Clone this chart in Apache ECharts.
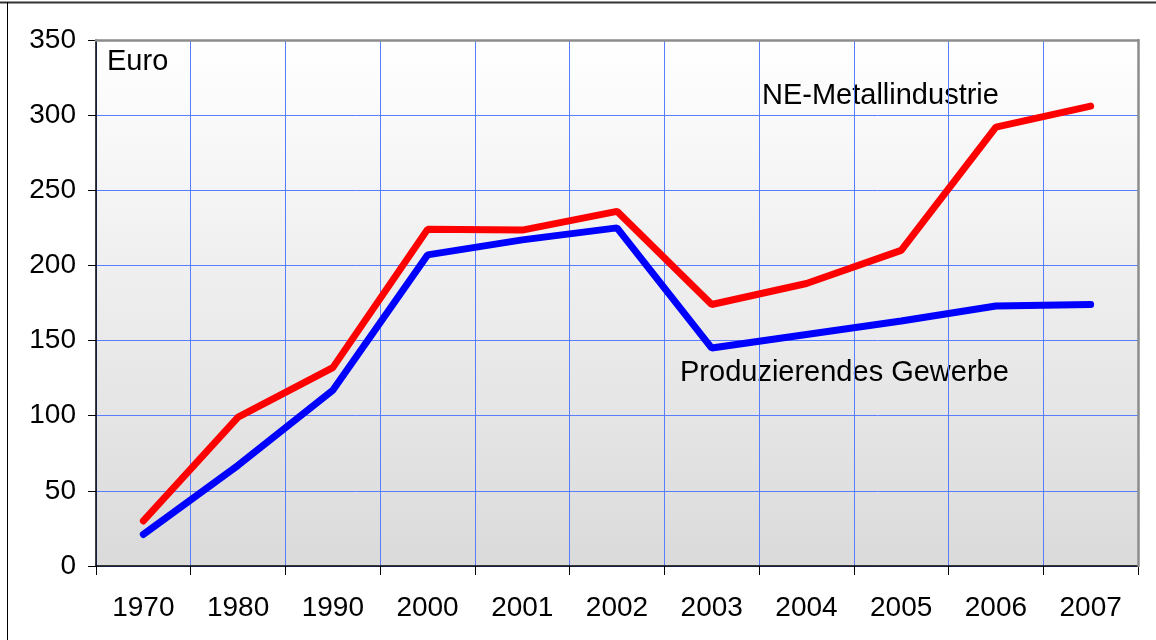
<!DOCTYPE html>
<html>
<head>
<meta charset="utf-8">
<script src="https://cdn.jsdelivr.net/npm/echarts@6/dist/echarts.min.js"></script>
<style>
html,body{margin:0;padding:0;background:#fff;}
#chart{width:1156px;height:640px;}
</style>
</head>
<body>
<div id="chart"></div>
<script>
const categories = ['1970','1980','1990','2000','2001','2002','2003','2004','2005','2006','2007'];
const neMetall = [30, 99, 132, 224, 223.5, 236, 174, 188, 210, 292, 306];
const produzierend = [21, 67, 117, 207, 217, 225, 145, 154, 163, 173, 174];
const yTicks = [0, 50, 100, 150, 200, 250, 300, 350];
const seriesNames = ['NE-Metallindustrie', 'Produzierendes Gewerbe'];
const unitLabel = 'Euro';

const FONT = '"Liberation Sans", Arial, sans-serif';
const chart = echarts.init(document.getElementById('chart'), null, {renderer: 'canvas'});
chart.setOption({
  animation: false,
  backgroundColor: '#ffffff',
  grid: {
    left: 96, right: 18, top: 40, bottom: 74,
    show: true,
    backgroundColor: new echarts.graphic.LinearGradient(0, 0, 0, 1, [
      {offset: 0, color: '#ffffff'},
      {offset: 1, color: '#dadada'}
    ]),
    borderWidth: 0
  },
  xAxis: [{
    type: 'category',
    data: categories,
    boundaryGap: true,
    axisLine: {lineStyle: {color: '#000', width: 1.5}},
    axisTick: {show: true, length: 9, lineStyle: {color: '#000'}},
    axisLabel: {color: '#000', fontSize: 28, fontFamily: FONT, margin: 28},
    splitLine: {show: true, lineStyle: {color: '#5a7cff', width: 1}}
  }, {
    type: 'category',
    data: categories,
    position: 'top',
    z: 10,
    boundaryGap: true,
    axisLine: {show: true, onZero: false, lineStyle: {color: '#8c8c8c', width: 2.5}},
    axisTick: {show: false},
    axisLabel: {show: false},
    splitLine: {show: false}
  }],
  yAxis: [{
    type: 'value',
    min: yTicks[0],
    max: yTicks[yTicks.length - 1],
    interval: 50,
    axisLine: {show: true, lineStyle: {color: '#000', width: 1.5}},
    axisTick: {show: true, length: 8, inside: false, lineStyle: {color: '#000'}},
    axisLabel: {color: '#000', fontSize: 28, fontFamily: FONT, margin: 20},
    splitLine: {show: true, lineStyle: {color: '#5a7cff', width: 1}}
  }, {
    type: 'value',
    position: 'right',
    z: 10,
    min: yTicks[0],
    max: yTicks[yTicks.length - 1],
    interval: 50,
    axisLine: {show: true, onZero: false, lineStyle: {color: '#8c8c8c', width: 2.5}},
    axisTick: {show: false},
    axisLabel: {show: false},
    splitLine: {show: false}
  }],
  series: [
    {
      name: seriesNames[0], type: 'line', data: neMetall,
      symbol: 'none', lineStyle: {color: '#ff0000', width: 7, cap: 'round'}
    },
    {
      name: seriesNames[1], type: 'line', data: produzierend,
      symbol: 'none', lineStyle: {color: '#0000ff', width: 7, cap: 'round'}
    }
  ],
  graphic: [
    {type: 'line', shape: {x1: 0, y1: 2.5, x2: 1156, y2: 2.5}, style: {stroke: '#333', lineWidth: 2}},
    {type: 'line', shape: {x1: 7.5, y1: 2, x2: 7.5, y2: 640}, style: {stroke: '#000', lineWidth: 1}},
    {type: 'text', left: 107, top: 47, style: {text: unitLabel, fontSize: 29, fontFamily: FONT, fill: '#000'}},
    {type: 'text', left: 762, top: 81, style: {text: seriesNames[0], fontSize: 29, fontFamily: FONT, fill: '#000'}},
    {type: 'text', left: 680, top: 358, style: {text: seriesNames[1], fontSize: 29, fontFamily: FONT, fill: '#000'}}
  ]
});
</script>
</body>
</html>
